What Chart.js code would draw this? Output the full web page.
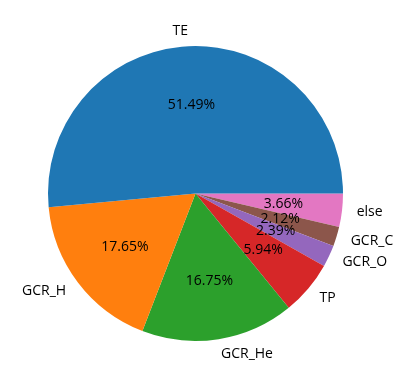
<!DOCTYPE html>
<html><head><meta charset="utf-8">
<script src="https://cdn.jsdelivr.net/npm/chart.js@4"></script>
<style>html,body{margin:0;padding:0;background:#fff}#c{display:block}</style>
</head><body>
<div style="width:404px;height:389px"><canvas id="c" width="404" height="389"></canvas></div>
<script>
const categories = ["TE", "GCR_H", "GCR_He", "TP", "GCR_O", "GCR_C", "else"];
const values = [51.49, 17.65, 16.75, 5.94, 2.39, 2.12, 3.66];
const colors = ["#1f77b4", "#ff7f0e", "#2ca02c", "#d62728", "#9467bd", "#8c564b", "#e377c2"];

// matplotlib draws counter-clockwise from 3 o'clock; Chart.js draws clockwise, so reverse
const labelsR = categories.slice().reverse();
const valuesR = values.slice().reverse();
const colorsR = colors.slice().reverse();
const FONT = '14px "Open Sans", sans-serif';

const pieLabels = {
  id: 'pieLabels',
  afterDatasetsDraw(chart) {
    const ctx = chart.ctx;
    const meta = chart.getDatasetMeta(0);
    const total = valuesR.reduce((a, b) => a + b, 0);
    ctx.save();
    ctx.font = FONT;
    ctx.fillStyle = '#000';
    ctx.textBaseline = 'middle';
    meta.data.forEach((arc, i) => {
      const p = arc.getProps(['x', 'y', 'startAngle', 'endAngle', 'outerRadius'], true);
      const mid = (p.startAngle + p.endAngle) / 2;
      const c = Math.cos(mid), s = Math.sin(mid);
      const lx = p.x + p.outerRadius * 1.1 * c;
      const ly = p.y + p.outerRadius * 1.1 * s;
      ctx.textAlign = c > 0 ? 'left' : 'right';
      ctx.fillText(labelsR[i], lx, ly);
      const px = p.x + p.outerRadius * 0.6 * c;
      const py = p.y + p.outerRadius * 0.6 * s;
      ctx.textAlign = 'center';
      ctx.fillText((valuesR[i] / total * 100).toFixed(2) + '%', px, py);
    });
    ctx.restore();
  }
};

new Chart(document.getElementById('c'), {
  type: 'pie',
  data: {
    labels: labelsR,
    datasets: [{ data: valuesR, backgroundColor: colorsR, borderWidth: 0, hoverOffset: 0 }]
  },
  options: {
    responsive: false,
    animation: false,
    rotation: 90,
    layout: { padding: { left: 48, right: 61, top: 46, bottom: 48 } },
    plugins: { legend: { display: false }, tooltip: { enabled: false } },
    events: []
  },
  plugins: [pieLabels]
});
</script>
</body></html>
